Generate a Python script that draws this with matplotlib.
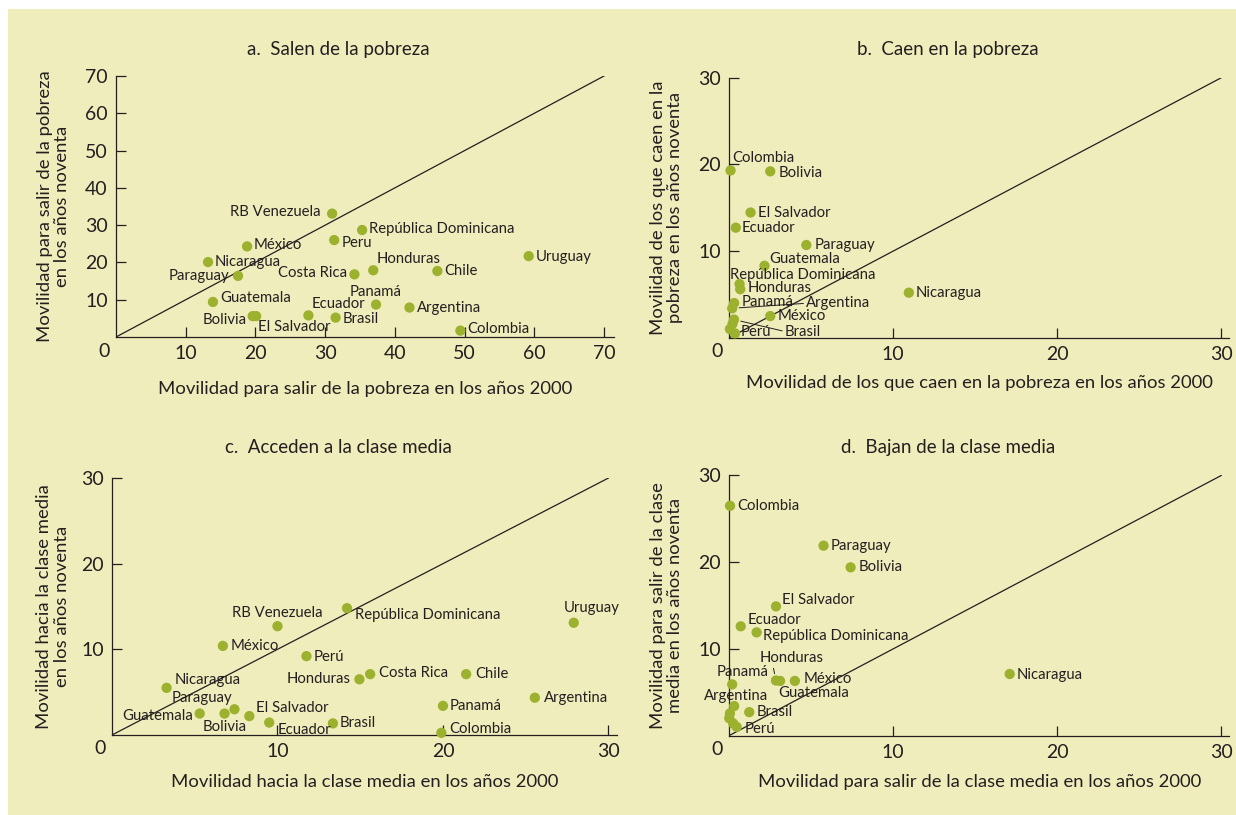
import matplotlib
matplotlib.use("Agg")
import matplotlib.pyplot as plt
from matplotlib.patches import Rectangle

plt.rcParams['font.family'] = ['Lato', 'DejaVu Sans']

BG = '#f0edbd'
DOT = '#9cb22e'
INK = '#231f20'

# a. Salen de la pobreza
a_names = ['RB Venezuela', 'República Dominicana', 'Peru', 'México', 'Nicaragua',
           'Paraguay', 'Costa Rica', 'Honduras', 'Chile', 'Uruguay', 'Guatemala',
           'Panamá', 'Argentina', 'Ecuador', 'Brasil', 'Bolivia', 'El Salvador',
           'Colombia']
a_x = [31.0, 35.3, 31.3, 18.8, 13.2, 17.5, 34.2, 36.9, 46.1, 59.2, 13.9,
       37.3, 42.1, 27.6, 31.5, 19.6, 20.1, 49.4]
a_y = [33.1, 28.7, 26.0, 24.3, 20.1, 16.4, 16.8, 17.9, 17.7, 21.7, 9.4,
       8.7, 7.9, 5.8, 5.2, 5.6, 5.6, 1.7]

# b. Caen en la pobreza
b_names = ['Colombia', 'Bolivia', 'El Salvador', 'Ecuador', 'Paraguay', 'Guatemala',
           'República Dominicana', 'Honduras', 'Nicaragua', 'Panamá', 'Argentina',
           'México', 'Brasil', '', '', 'Perú']
b_x = [0.08, 2.5, 1.3, 0.4, 4.7, 2.15, 0.63, 0.67, 10.95, 0.3, 0.18,
       2.5, 0.29, 0.2, 0.04, 0.35]
b_y = [19.3, 19.2, 14.45, 12.7, 10.7, 8.3, 6.2, 5.6, 5.2, 4.0, 3.4,
       2.5, 2.1, 1.6, 1.0, 0.5]

# c. Acceden a la clase media
c_names = ['República Dominicana', 'RB Venezuela', 'Uruguay', 'México', 'Perú',
           'Costa Rica', 'Honduras', 'Chile', 'Nicaragua', 'Argentina', 'Panamá',
           'Guatemala', 'Bolivia', 'Paraguay', 'El Salvador', 'Ecuador', 'Brasil',
           'Colombia']
c_x = [14.2, 10.0, 27.9, 6.7, 11.75, 15.6, 14.95, 21.4, 3.3, 25.55, 20.0,
       5.3, 6.8, 7.4, 8.3, 9.5, 13.35, 19.9]
c_y = [14.8, 12.7, 13.1, 10.4, 9.2, 7.1, 6.5, 7.1, 5.5, 4.35, 3.4,
       2.5, 2.5, 3.0, 2.2, 1.45, 1.35, 0.25]

# d. Bajan de la clase media
d_names = ['Colombia', 'Paraguay', 'Bolivia', 'El Salvador', 'Ecuador',
           'República Dominicana', 'Nicaragua', 'Honduras', 'Guatemala', 'México',
           'Panamá', 'Argentina', 'Brasil', '', '', '', 'Perú']
d_x = [0.05, 5.75, 7.4, 2.85, 0.7, 1.67, 17.1, 2.85, 3.1, 4.0,
       0.18, 0.3, 1.22, 0.04, 0.0, 0.24, 0.45]
d_y = [26.5, 21.9, 19.4, 14.9, 12.6, 11.9, 7.1, 6.35, 6.3, 6.3,
       5.9, 3.4, 2.7, 2.55, 2.0, 1.4, 1.0]

titles = ['a.  Salen de la pobreza', 'b.  Caen en la pobreza',
          'c.  Acceden a la clase media', 'd.  Bajan de la clase media']
xlabels = ['Movilidad para salir de la pobreza en los años 2000',
           'Movilidad de los que caen en la pobreza en los años 2000',
           'Movilidad hacia la clase media en los años 2000',
           'Movilidad para salir de la clase media en los años 2000']
ylabels = ['Movilidad para salir de la pobreza\nen los años noventa',
           'Movilidad de los que caen en la\npobreza en los años noventa',
           'Movilidad hacia la clase media\nen los años noventa',
           'Movilidad para salir de la clase\nmedia en los años noventa']
axis_max = [70, 30, 30, 30]
ticks = [[10, 20, 30, 40, 50, 60, 70], [10, 20, 30], [10, 20, 30], [10, 20, 30]]

# label placement: (dx px, dy px, ha[, leader anchor on the text box])
a_pos = [(-12, 2, 'right'), (7, 1, 'left'), (7, -3, 'left'), (7, 1, 'left'),
         (7, 0, 'left'), (-9, 0, 'right'), (-7, 1, 'right'), (3, 11, 'left'),
         (7, 0, 'left'), (7, -1, 'left'), (7, 4, 'left'), (0, 13, 'center'),
         (7, 0, 'left'), (3, 11, 'left'), (7, -1, 'left'), (-6, -4, 'right'),
         (2, -11, 'left'), (7, 2, 'left')]
b_pos = [(2, 12, 'left'), (8, -2, 'left'), (7, 0, 'left'), (6, 0, 'left'),
         (8, 0, 'left'), (5, 7, 'left'), (-10, 9, 'left'), (7, 1, 'left'),
         (7, 0, 'left'), (7, 1, 'left'), (74, 5, 'left', (0, 0.5)), (7, 0, 'left'),
         (51, -12, 'left', (0, 0.5)), None, None, (6, 1, 'left')]
c_pos = [(8, -7, 'left'), (0, 13, 'center'), (18, 15, 'center'), (8, 0, 'left'),
         (7, -1, 'left'), (9, 1, 'left'), (-9, 0, 'right'), (9, 0, 'left'),
         (8, 8, 'left'), (9, 0, 'left'), (7, 0, 'left'), (-7, -2, 'right'),
         (0, -13, 'center'), (-2, 11, 'right'), (7, 8, 'left'), (8, -7, 'left'),
         (7, 0, 'left'), (8, 4, 'left')]
d_pos = [(7, 0, 'left'), (7, 0, 'left'), (8, 0, 'left'), (6, 6, 'left'),
         (7, 6, 'left'), (6, -4, 'left'), (7, -1, 'left'),
         (-16, 22, 'left', (0.2, 0.05)), (-2, -12, 'left'), (9, 2, 'left'),
         (-16, 12, 'left'), (-30, 10, 'left'), (7, 0, 'left'), None, None, None,
         (8, -2, 'left')]

panels = [(a_names, a_x, a_y, a_pos), (b_names, b_x, b_y, b_pos),
          (c_names, c_x, c_y, c_pos), (d_names, d_x, d_y, d_pos)]

# axes rectangles in figure fractions
rects = [[0.0939, 0.5865, 0.4032, 0.3202],
         [0.5900, 0.5856, 0.4047, 0.3190],
         [0.0906, 0.0982, 0.4084, 0.3153],
         [0.5900, 0.0975, 0.4047, 0.3191]]
xlims = [71.5, 30.5, 30.5, 30.5]
ylab_x = [-0.126, -0.1256, -0.117, -0.1256]
xlab_y = [-0.199, -0.174, -0.183, -0.179]
title_xy = [(338, 50), (948, 50), (338, 447), (948, 447)]

fig = plt.figure(figsize=(12.36, 8.15), dpi=100)
fig.patches.append(Rectangle((8 / 1236, 0), 1, 1 - 9 / 815, transform=fig.transFigure,
                             facecolor=BG, edgecolor='none', zorder=-10))

for i, (names, xs, ys, pos) in enumerate(panels):
    ax = fig.add_axes(rects[i])
    ax.set_facecolor('none')
    ax.set_xlim(0, xlims[i])
    ax.set_ylim(0, axis_max[i])
    for s in ['top', 'right']:
        ax.spines[s].set_visible(False)
    for s in ['left', 'bottom']:
        ax.spines[s].set_color(INK)
        ax.spines[s].set_linewidth(0.9)
    ax.set_xticks(ticks[i])
    ax.set_yticks(ticks[i])
    ax.tick_params(direction='in', length=7, width=0.9, color=INK,
                   labelsize=14, labelcolor=INK, pad=6)

    ax.plot([0, axis_max[i]], [0, axis_max[i]], color=INK, lw=0.9, zorder=1)
    ax.scatter(xs, ys, s=55, color=DOT, edgecolors='none', zorder=3, clip_on=False)

    for name, x, y, p in zip(names, xs, ys, pos):
        if p is None or not name:
            continue
        kw = {}
        if len(p) > 3:
            kw['arrowprops'] = dict(arrowstyle='-', color=INK, lw=0.7,
                                    shrinkA=0, shrinkB=5, relpos=p[3])
        ax.annotate(name, (x, y), xytext=(p[0], p[1]), textcoords='offset pixels',
                    ha=p[2], va='center', fontsize=10.7, color=INK, zorder=4, **kw)

    ax.annotate('0', (0, 0), xytext=(-12, -14), textcoords='offset pixels',
                ha='center', va='center', fontsize=14, color=INK, annotation_clip=False)

    ax.set_xlabel(xlabels[i], fontsize=13.3, color=INK, va='center')
    ax.xaxis.set_label_coords(0.5, xlab_y[i])
    ax.set_ylabel(ylabels[i], fontsize=13.3, color=INK, va='center', ha='center',
                  linespacing=1.1)
    ax.yaxis.set_label_coords(ylab_x[i], 0.5)

    fig.text(title_xy[i][0] / 1236, 1 - title_xy[i][1] / 815, titles[i],
             ha='center', va='center', fontsize=13.5, color=INK)

fig.savefig('out.png', dpi=100, facecolor='white')
